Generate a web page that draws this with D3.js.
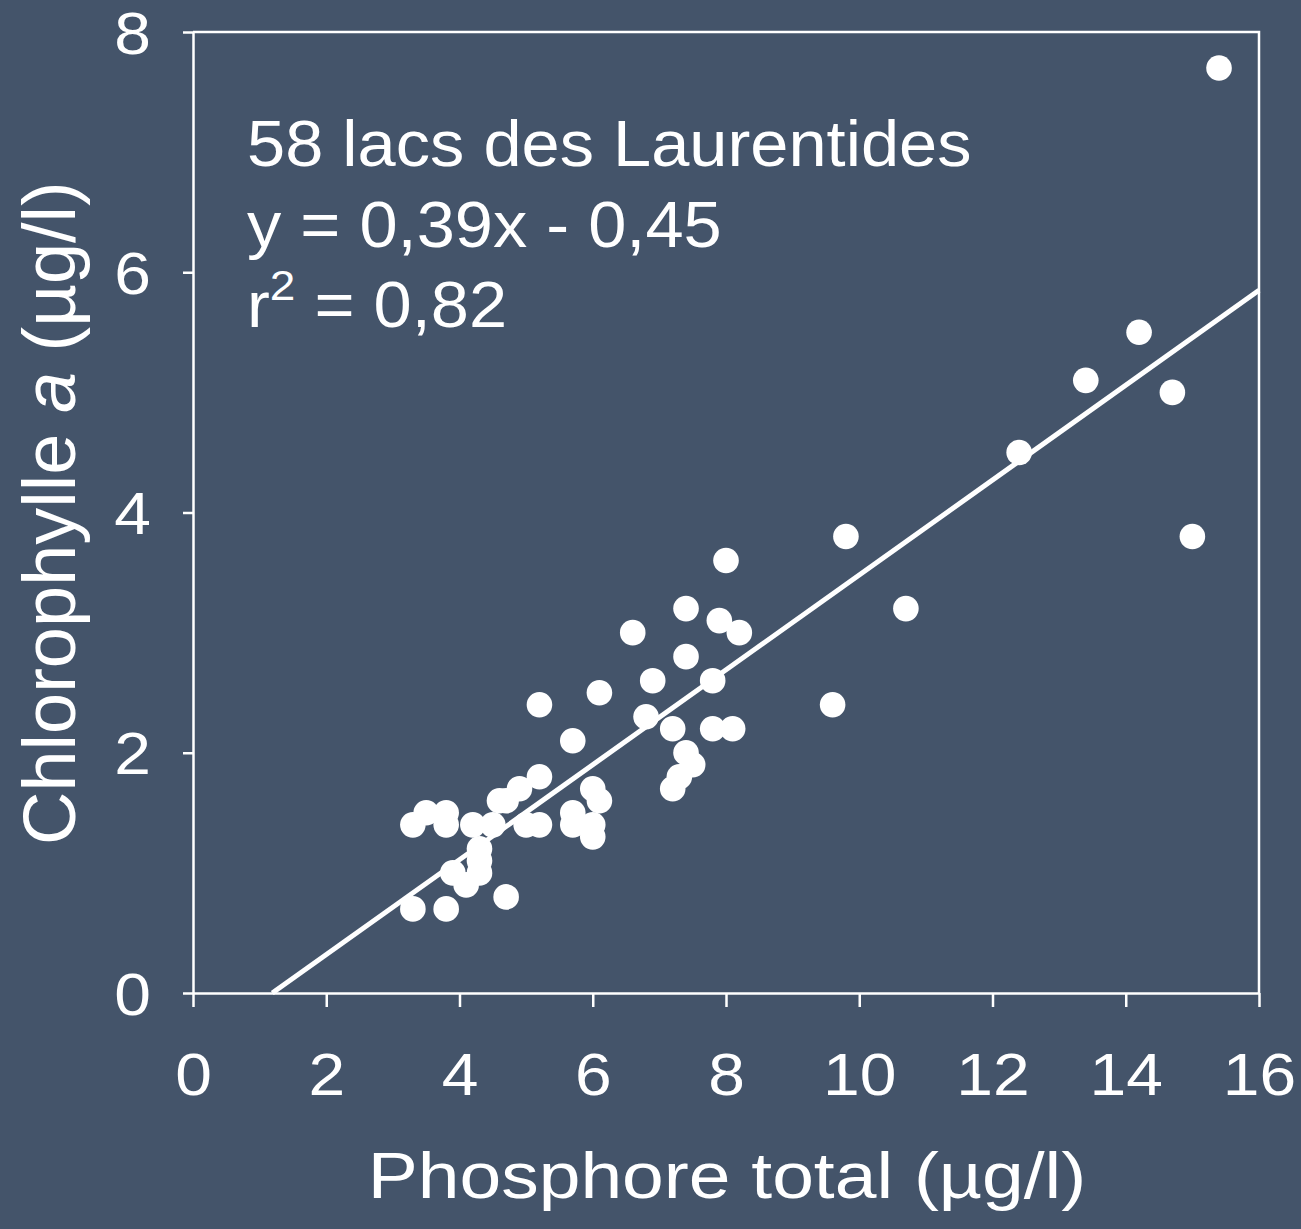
<!DOCTYPE html>
<html lang="fr">
<head>
<meta charset="utf-8">
<script src="https://d3js.org/d3.v7.min.js"></script>
<style>
  html, body { margin: 0; padding: 0; background: #44546A; }
  svg { display: block; }
  text { font-family: "Liberation Sans", Arial, sans-serif; fill: #fff; }
</style>
</head>
<body>
<svg id="chart" width="1301" height="1229"></svg>
<script>
// phosphore total (µg/l) vs chlorophylle a (µg/l)
const phosphore = [15.4, 14.2, 13.4, 14.7, 12.4, 15.0, 9.8, 10.7, 9.6, 8.0,
                   7.4, 7.9, 8.2, 6.6, 7.4, 6.9, 7.8, 6.1, 6.8, 7.2,
                   7.8, 8.1, 5.2, 5.7, 7.4, 7.5, 7.3, 7.2, 5.2, 4.9,
                   6.0, 4.6, 4.7, 6.1, 3.5, 3.8, 5.7, 3.3, 3.8, 4.2,
                   4.5, 5.0, 5.2, 5.7, 6.0, 6.0, 4.3, 4.3, 3.9, 4.3,
                   4.1, 4.7, 3.3, 3.8];
const chloro =    [7.7, 5.5, 5.1, 5.0, 4.5, 3.8, 3.8, 3.2, 2.4, 3.6,
                   3.2, 3.1, 3.0, 3.0, 2.8, 2.6, 2.6, 2.5, 2.3, 2.2,
                   2.2, 2.2, 2.4, 2.1, 2.0, 1.9, 1.8, 1.7, 1.8, 1.7,
                   1.7, 1.6, 1.6, 1.6, 1.5, 1.5, 1.5, 1.4, 1.4, 1.4,
                   1.4, 1.4, 1.4, 1.4, 1.4, 1.3, 1.2, 1.1, 1.0, 1.0,
                   0.9, 0.8, 0.7, 0.7];
const xTicks = [0, 2, 4, 6, 8, 10, 12, 14, 16];
const yTicks = [0, 2, 4, 6, 8];
// drawn trend line (slightly off the printed equation, as in the source)
const fitSlope = 0.395;
const fitIntercept = -0.47;
const noteLines = ["58 lacs des Laurentides", "y = 0,39x - 0,45"];

const svg = d3.select("#chart");
const plotLeft = 193, plotRight = 1259, plotTop = 32, plotBottom = 993;

const x = d3.scaleLinear().domain([0, 16]).range([plotLeft, plotRight]);
const y = d3.scaleLinear().domain([0, 8]).range([plotBottom, plotTop]);

// frame top + right
svg.append("path")
   .attr("d", `M${x(0)},${y(8)}H${x(16)}V${y(0)}`)
   .attr("fill", "none").attr("stroke", "#fff").attr("stroke-width", 2.5);

const xAxis = d3.axisBottom(x).tickValues(xTicks).tickSize(14).tickSizeOuter(0);
const gx = svg.append("g").attr("transform", `translate(0,${plotBottom})`).call(xAxis);
gx.selectAll("text")
  .attr("y", 0).attr("dy", 0)
  .attr("transform", "translate(0,102) scale(1,0.9)")
  .style("font-size", "66px");

const yAxis = d3.axisLeft(y).tickValues(yTicks).tickSize(10).tickSizeOuter(0);
const gy = svg.append("g").attr("transform", `translate(${plotLeft},0)`).call(yAxis);
gy.selectAll("text")
  .attr("x", 0).attr("dy", 0)
  .attr("transform", "translate(-42,21) scale(1,0.9)")
  .style("font-size", "66px");

svg.selectAll(".domain, .tick line")
   .attr("stroke", "#fff").attr("stroke-width", 2.5);
svg.selectAll(".tick text").attr("fill", "#fff").style("font-family", '"Liberation Sans", Arial, sans-serif');

// trend line
const x0 = -fitIntercept / fitSlope;
svg.append("line")
   .attr("x1", x(x0)).attr("y1", y(0))
   .attr("x2", x(16)).attr("y2", y(fitSlope * 16 + fitIntercept))
   .attr("stroke", "#fff").attr("stroke-width", 5);

// points
svg.append("g").selectAll("circle")
   .data(phosphore.map((p, i) => [p, chloro[i]]))
   .join("circle")
   .attr("cx", d => x(d[0])).attr("cy", d => y(d[1]))
   .attr("r", 12.8).attr("fill", "#fff");

// note
noteLines.forEach((t, i) => {
  svg.append("text")
     .attr("transform", `translate(247,${166 + i * 80.5}) scale(1,0.94)`)
     .style("font-size", "68.6px").text(t);
});
const r2 = svg.append("text")
   .attr("transform", `translate(247,327) scale(1,0.94)`)
   .style("font-size", "68.6px");
r2.append("tspan").text("r");
r2.append("tspan").attr("dy", -29).style("font-size", "46px").text("2");
r2.append("tspan").attr("dy", 29).text(" = 0,82");

// axis titles
svg.append("text")
   .attr("transform", "translate(727,1198) scale(1,0.87)")
   .attr("text-anchor", "middle")
   .style("font-size", "75px")
   .text("Phosphore total (µg/l)");

const yt = svg.append("text")
   .attr("transform", "translate(75,845) rotate(-90)")
   .style("font-size", "74px");
yt.append("tspan").text("Chlorophylle ");
yt.append("tspan").style("font-style", "italic").text("a");
yt.append("tspan").text(" (µg/l)");
</script>
</body>
</html>
